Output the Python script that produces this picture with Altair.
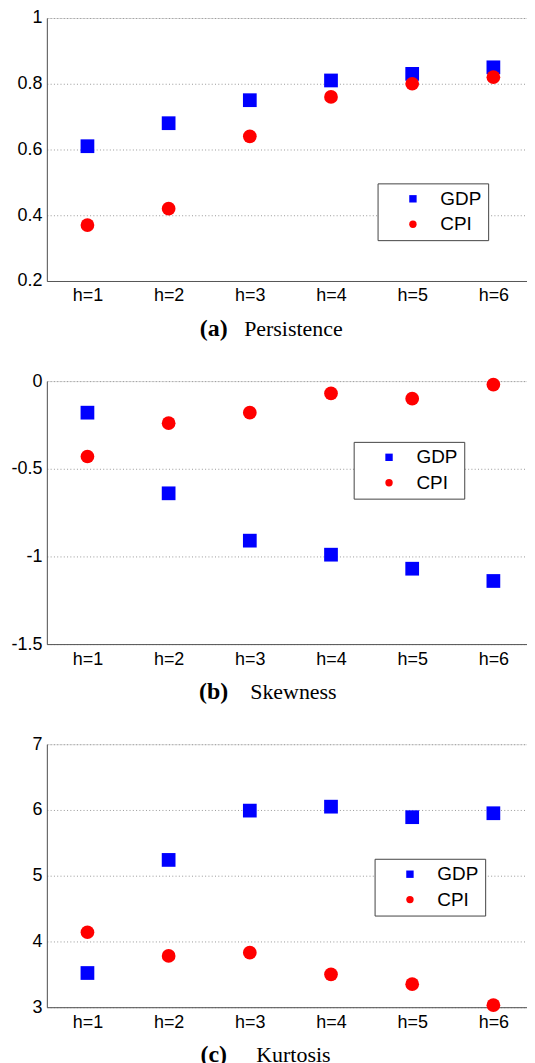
import altair as alt
import pandas as pd

h_labels = ["h=1", "h=2", "h=3", "h=4", "h=5", "h=6"]
series_names = ["GDP", "CPI"]

pers_gdp = [0.61, 0.68, 0.75, 0.81, 0.83, 0.85]
pers_cpi = [0.37, 0.42, 0.64, 0.76, 0.80, 0.82]
skew_gdp = [-0.18, -0.64, -0.91, -0.99, -1.07, -1.14]
skew_cpi = [-0.43, -0.24, -0.18, -0.07, -0.10, -0.02]
kurt_gdp = [3.52, 5.24, 5.99, 6.05, 5.89, 5.95]
kurt_cpi = [4.14, 3.78, 3.83, 3.50, 3.35, 3.03]

pers_ticks = [0.2, 0.4, 0.6, 0.8, 1.0]
skew_ticks = [-1.5, -1.0, -0.5, 0.0]
kurt_ticks = [3, 4, 5, 6, 7]

W, H = 489, 264
SANS = "Liberation Sans"
SERIF = "Liberation Serif"


def panel(gdp, cpi, domain, ticks, letter, name, lx, ly):
    df = pd.DataFrame({
        "h": h_labels * 2,
        "value": gdp + cpi,
        "series": ["GDP"] * 6 + ["CPI"] * 6,
    })
    leg = alt.Legend(
        title=None, orient="none", legendX=lx, legendY=ly,
        strokeColor="#444", fillColor="white", padding=6,
        labelFontSize=19, labelFont=SANS, labelColor="black",
        symbolSize=55, symbolOffset=20, labelOffset=18, rowPadding=5.5,
        symbolStrokeWidth=0,
    )
    return alt.Chart(df).mark_point(filled=True, opacity=1, strokeWidth=0, size=190).encode(
        x=alt.X("h:N", sort=h_labels,
                scale=alt.Scale(type="point", padding=0.5),
                axis=alt.Axis(title=name, labelAngle=0, labelFontSize=18, labelFont=SANS,
                              labelColor="black", labelPadding=6, ticks=False,
                              domainColor="#555", gridColor="#999", gridDash=[1, 2.3],
                              titleFont=SERIF, titleFontSize=22, titleFontWeight="normal",
                              titleColor="black", titleX=247, titleY=55,
                              titleBaseline="alphabetic", titleAlign="center")),
        y=alt.Y("value:Q",
                scale=alt.Scale(domain=domain, nice=False, zero=False),
                axis=alt.Axis(title=None, values=ticks, labelExpr="toString(datum.value)",
                              labelFontSize=18, labelFont=SANS, labelColor="black",
                              labelPadding=5, ticks=False, minExtent=38, maxExtent=38,
                              domainColor="#555", gridColor="#999", gridDash=[1, 2.3])),
        color=alt.Color("series:N",
                        scale=alt.Scale(domain=series_names, range=["#0000ff", "#ff0000"]),
                        legend=leg),
        shape=alt.Shape("series:N",
                        scale=alt.Scale(domain=series_names, range=["square", "circle"]),
                        legend=leg),
    ).properties(
        width=W, height=H,
        title=alt.TitleParams(letter, orient="bottom", anchor="middle", frame="group",
                              font=SERIF, fontSize=24, fontWeight="bold", color="black",
                              dx=-77, dy=-4, offset=0, baseline="alphabetic"),
    )


a = panel(pers_gdp, pers_cpi, [0.2, 1.0], pers_ticks, "(a)", "Persistence", 332, 166)
b = panel(skew_gdp, skew_cpi, [-1.5, 0.0], skew_ticks, "(b)", "Skewness", 308, 61)
c = panel(kurt_gdp, kurt_cpi, [3, 7], kurt_ticks, "(c)", "Kurtosis", 329, 115)

chart = alt.vconcat(a, b, c, spacing=29.5).resolve_scale(
    color="independent", shape="independent"
).resolve_legend(
    color="independent", shape="independent"
).properties(
    padding={"top": -2, "left": 0, "right": -8, "bottom": 0}
).configure_view(stroke=None).configure(background="white")

chart.save("out.html", embed_options={"renderer": "svg", "actions": False})
